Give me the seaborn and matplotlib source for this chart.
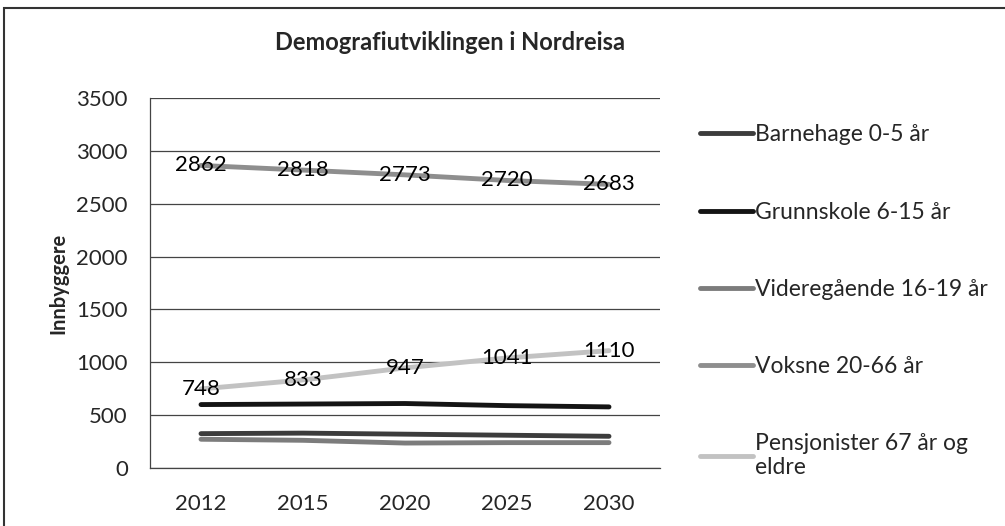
import pandas as pd
import matplotlib.pyplot as plt
import seaborn as sns
from matplotlib.patches import Rectangle

years = ['2012', '2015', '2020', '2025', '2030']
series_names = ['Barnehage 0-5 år', 'Grunnskole 6-15 år', 'Videregående 16-19 år',
                'Voksne 20-66 år', 'Pensjonister 67 år og\neldre']
barnehage = [325, 330, 320, 310, 300]
grunnskole = [600, 605, 610, 590, 578]
videregaende = [272, 262, 236, 240, 240]
voksne = [2862, 2818, 2773, 2720, 2683]
pensjonister = [748, 833, 947, 1041, 1110]
colors = ['#3c3c3c', '#141414', '#7c7c7c', '#8e8e8e', '#c2c2c2']

values = [barnehage, grunnskole, videregaende, voksne, pensjonister]
rows = []
for name, vals in zip(series_names, values):
    for i, v in enumerate(vals):
        rows.append({'pos': i, 'year': years[i], 'serie': name, 'verdi': v})
df = pd.DataFrame(rows)

sns.set_style('white')
plt.rcParams['font.family'] = ['Lato', 'DejaVu Sans']

fig = plt.figure(figsize=(10.05, 5.26), dpi=100)
ax = fig.add_axes([150 / 1005, 1 - 468 / 526, 510 / 1005, 370 / 526])

sns.lineplot(data=df, x='pos', y='verdi', hue='serie', hue_order=series_names,
             palette=colors, linewidth=3.5, ax=ax, legend=True)

# data labels for the two labelled series
for vals in [voksne, pensjonister]:
    for i, v in enumerate(vals):
        ax.text(i, v, str(v), ha='center', va='center', fontsize=16, color='black')

ax.set_xlim(-0.5, 4.5)
ax.set_ylim(0, 3500)
ax.set_yticks(range(0, 3501, 500))
ax.set_xticks(range(len(years)))
ax.set_xticklabels(years)
ax.tick_params(axis='both', labelsize=16, length=0)
ax.tick_params(axis='x', pad=19)
ax.tick_params(axis='y', pad=16)
ax.grid(axis='y', color='#444444', linewidth=0.9)
ax.set_axisbelow(True)
for side in ['top', 'right']:
    ax.spines[side].set_visible(False)
for side in ['left', 'bottom']:
    ax.spines[side].set_color('#444444')
    ax.spines[side].set_linewidth(0.9)
ax.set_xlabel('')
ax.set_ylabel('Innbyggere', fontsize=14.5, fontweight='bold', labelpad=6)

leg = ax.legend(loc='upper left', bbox_to_anchor=(689 / 1005, 1 - 113 / 526),
                bbox_transform=fig.transFigure, frameon=False, fontsize=16.5,
                handlelength=2.3, handletextpad=0.1, labelspacing=2.45,
                borderpad=0)
for line in leg.get_lines():
    line.set_linewidth(3.5)

fig.text(450 / 1005, 1 - 42 / 526, 'Demografiutviklingen i Nordreisa',
         ha='center', va='center', fontsize=17, fontweight='bold')

fig.add_artist(Rectangle((4 / 1005, -0.05), 1.2, 1 - 8 / 526 + 0.05,
                         transform=fig.transFigure, fill=False,
                         edgecolor='#333333', linewidth=1.5))

fig.savefig('out.png', dpi=100)
